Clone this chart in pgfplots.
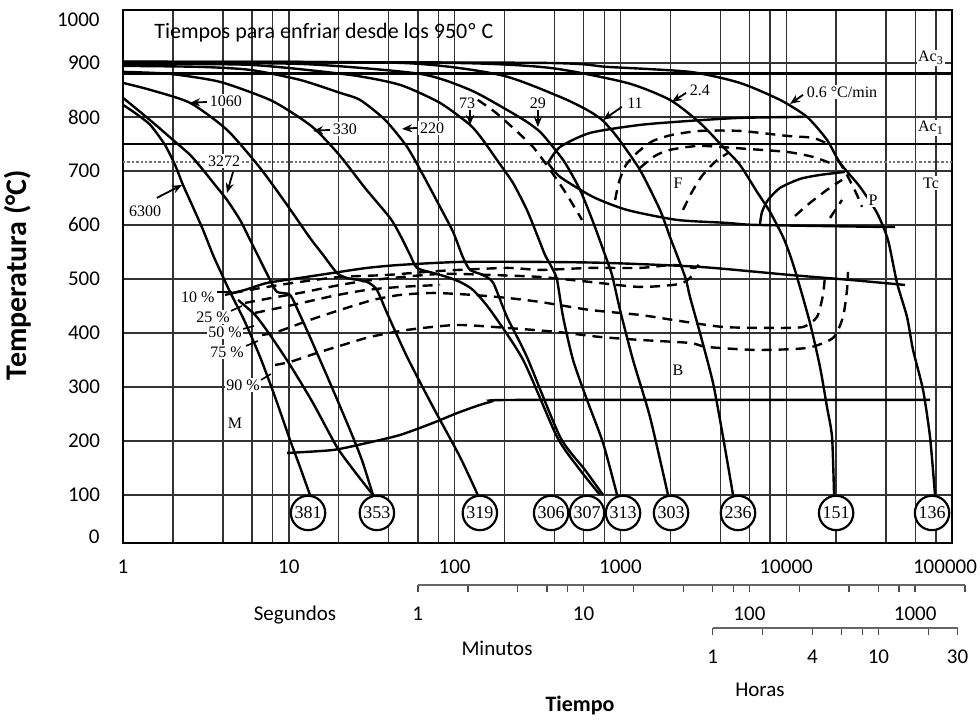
\documentclass[border=0pt]{standalone}
\usepackage{fontspec}
\setmainfont{Carlito}
\newfontfamily\tnr{Liberation Serif}
\usepackage{pgfplots}
\pgfplotsset{compat=1.18}
\usetikzlibrary{arrows.meta}
\begin{document}
\begin{tikzpicture}
\useasboundingbox (0,0) rectangle (490pt,360.5pt);
\begin{axis}[
  at={(61.5pt,89pt)}, anchor=south west,
  scale only axis, width=414.5pt, height=266.5pt,
  xmode=log, xmin=1, xmax=100000, ymin=11.1, ymax=998,
  xtick={1,10,100,1000,10000,100000},
  xticklabels={1,10,100,1000,10000,\hbox to 0pt{\hss\kern-7pt 100000\hss}},
  minor xtick={2,4,6,8,20,40,60,80,200,400,600,800,2000,4000,6000,8000,20000,40000,60000,80000},
  ytick={100,200,...,900},
  /pgf/number format/assume math mode=true,
  grid=both,
  major grid style={black!80, line width=0.7pt},
  minor grid style={black!80, line width=0.7pt},
  major tick length=0pt, minor tick length=0pt,
  axis line style={black, line width=1.1pt},
  tick label style={font=\fontsize{10.5}{12}\selectfont},
  xticklabel style={yshift=-5pt},
  yticklabel style={xshift=-8pt},
  clip=false,
  every axis plot/.append style={line width=1.2pt, black},
]
% reference lines Ac3, Ac1, Tc
\addplot[line width=1.4pt] coordinates {(1,880) (100000,880)};
\addplot[line width=1.4pt] coordinates {(1,750) (100000,750)};
\addplot[densely dotted, black!55, line width=1.1pt] coordinates {(1,717) (100000,717)};
% cooling curves
\addplot[smooth, tension=0.4] coordinates {(1,822.3) (1.18,807.5) (1.46,785.2) (1.79,748.2) (2.06,711.2) (2.30,674.1) (2.64,633.4) (3.04,590.8) (3.49,544.5) (3.96,507.4) (4.42,476.0) (5.44,420.4) (6.71,355.6) (8.26,281.5) (10.17,201.9) (11.68,151.9) (13.42,100)};
\addplot[smooth, tension=0.4] coordinates {(1,835.3) (1.27,809.3) (1.60,783.4) (2.00,757.5) (2.54,729.7) (3.04,701.9) (3.59,674.1) (4.24,646.3) (5.08,609.3) (5.84,572.3) (6.71,535.2) (7.71,498.2) (8.49,476.0) (10.17,470.4) (11.68,433.4) (13.42,392.6) (15.43,350.0) (17.73,307.4) (23.40,220.4) (27.6,164.8) (32.2,100)};
\addplot[smooth, tension=0.4] coordinates {(4.94,461.1) (6.26,433.4) (7.71,396.3) (10.17,340.8) (13.99,270.4) (19.5,188.9) (25.1,142.6) (32.2,100)};
\addplot[smooth, tension=0.4] coordinates {(1,863.0) (1.46,850.1) (2.54,826.0) (4.24,776.0) (6.71,705.6) (9.76,637.1) (13.42,576.0) (16.1,544.5) (19.5,511.2) (22.4,501.9) (29.6,494.5) (34.0,479.7) (39.1,437.1) (51.7,355.6) (74.1,263.0) (107.8,170.4) (138,100)};
\addplot[smooth, tension=0.4] coordinates {(1,883.4) (1.92,879.7) (3.85,864.9) (7.71,831.5) (11.68,798.2) (14.8,774.1) (20.4,727.8) (28.8,668.6) (40.8,613.0) (46.9,581.5) (53.9,544.5) (59.3,520.4) (74.1,511.2) (90.0,503.7) (107.8,494.5) (129,479.7) (164,442.6) (259,350.0) (415,207.4) (571,146.3) (754,100)};
\addplot[smooth, tension=0.4] coordinates {(1,894.5) (2.91,892.7) (5.84,887.1) (11.68,868.6) (20.4,844.5) (26.9,831.5) (38.1,794.5) (51.7,744.5) (64.5,692.6) (81.7,633.4) (97.9,587.1) (112,540.8) (124,516.7) (148,507.4) (171,492.6) (207,429.7) (273,355.6) (433,207.4) (612,146.3) (786,100)};
\addplot[smooth, tension=0.4] coordinates {(1,898.2) (5.84,896.4) (23.4,877.8) (46.9,859.3) (81.7,826.0) (124,785.2) (148,757.5) (180,720.4) (225,677.8) (273,627.8) (318,577.8) (351,544.5) (387,520.4) (415,498.2) (451,429.7) (518,350.0) (629,276.0) (786,196.3) (955,100)};
\addplot[smooth, tension=0.4] coordinates {(1,900.1) (11.68,898.2) (61.9,879.7) (124,850.1) (207,813.0) (273,790.8) (328,772.3) (392,744.5) (464,714.9) (571,664.9) (684,605.6) (808,544.5) (890,507.4) (995,442.6) (1191,350.0) (1508,244.5) (1938,100)};
\addplot[smooth, tension=0.4] coordinates {(1,901.9) (46.9,900.1) (188,877.8) (433,837.1) (629,813.0) (775,794.5) (955,763.0) (1312,701.9) (1733,627.8) (1991,577.8) (2287,529.7) (2490,498.2) (2628,466.7) (3020,400.0) (3620,307.4) (4160,207.4) (4780,100)};
\addplot[smooth, tension=0.4] coordinates {(1,901.9) (93.9,900.1) (376,890.8) (1096,863.0) (1991,831.5) (3020,789.0) (4160,744.5) (5260,711.2) (6670,661.2) (7990,624.1) (9570,577.8) (10540,544.5) (11620,503.7) (13910,418.6) (15990,337.1) (17620,263.0) (18900,207.4) (19440,100)};
\addplot[smooth, tension=0.4] coordinates {(1,901.9) (328,900.1) (831,892.7) (2628,883.4) (5260,863.0) (9180,831.5) (13350,800.1) (17620,757.5) (21110,714.9) (27870,670.4) (35300,622.3) (41100,572.3) (46600,492.6) (53540,429.7) (58200,368.5) (66900,294.5) (73700,207.4) (79000,100)};
% transformation start / finish lines
\addplot[smooth, tension=0.4] coordinates {(4.12,470.4) (5.44,479.7) (7.39,492.6) (11.68,501.9) (18.5,511.2) (29.6,520.4) (46.9,526.0) (107.8,531.5) (328,531.5) (831,529.7) (3020,522.3) (10540,507.4) (24260,498.2) (52100,488.9)};
\addplot[smooth, tension=0.4] coordinates {(9.76,177.8) (18.5,183.3) (29.6,196.3) (46.9,211.1) (74.1,233.4) (107.8,253.7) (164,272.2) (248,276.0) (73700,276.0)};
\addplot[smooth, tension=0.4] coordinates {(366,714.9) (433,744.5) (656,770.4) (1312,785.2) (2628,792.7) (5260,798.2) (12630,800.1)};
\addplot[smooth, tension=0.4] coordinates {(366,714.9) (433,688.9) (684,651.9) (1096,627.8) (2194,609.3) (4395,603.8) (6670,600.0) (38360,596.3) (45320,596.3)};
\addplot[smooth, tension=0.4] coordinates {(6950,601.9) (7146,624.1) (7770,646.3) (9180,668.6) (12110,685.2) (15990,692.6) (22630,698.2)};
% dashed lines
\pgfplotsset{dsh/.style={smooth, tension=0.4, dash pattern=on 5pt off 3.5pt, line width=1.2pt}}
\addplot[dsh] coordinates {(138,831.5) (175,809.3) (225,779.7) (297,744.5) (366,707.5) (464,661.2) (587,609.3)};
\addplot[dsh] coordinates {(929,646.3) (981,679.7) (1081,711.2) (1277,735.2) (1573,755.6) (2047,766.7) (3020,774.1) (5260,774.1) (10110,764.9) (14510,761.2) (18380,748.2)};
\addplot[dsh] coordinates {(1312,705.6) (1617,727.8) (1991,739.0) (3020,746.4) (5800,740.8) (10110,735.2) (14510,726.0) (19700,711.2)};
\addplot[dsh] coordinates {(2386,627.8) (2703,661.2) (3105,690.8) (3720,716.7) (4459,733.4)};
\addplot[dsh] coordinates {(20530,720.4) (23260,692.6) (26730,655.6) (28650,633.4)};
\addplot[dsh] coordinates {(11300,616.7) (13910,640.8) (17620,664.9) (21710,683.4)};
\addplot[dsh] coordinates {(18380,613.0) (21710,646.3)};
\addplot[dsh] coordinates {(4.61,474.1) (7.39,485.2) (11.68,494.5) (20.4,503.7) (39.1,507.4) (81.7,514.9) (207,520.4) (328,516.7) (656,520.4) (1312,520.4) (2077,526.0) (2818,520.4) (3020,531.5)};
\addplot[dsh] coordinates {(5.44,455.6) (8.49,466.7) (11.68,474.1) (20.4,488.9) (32.2,498.2) (81.7,509.3) (164,507.4) (328,503.7) (656,494.5) (1312,485.2) (2287,490.8) (2703,505.6)};
\addplot[dsh] coordinates {(6.26,437.1) (10.60,451.9) (18.5,468.6) (29.6,479.7) (46.9,485.2) (81.7,488.9)};
\addplot[dsh] coordinates {(6.90,396.3) (8.49,401.9) (13.42,424.1) (20.4,442.6) (32.2,461.1) (46.9,470.4) (74.1,474.1) (129,470.4) (207,464.9) (328,457.4) (656,442.6) (1312,433.4) (2077,424.1) (4160,411.1) (8330,409.3) (12630,411.1) (15340,429.7) (16670,470.4) (17140,507.4)};
\addplot[dsh] coordinates {(8.26,340.8) (10.17,346.3) (14.8,363.0) (21.2,377.8) (30.9,392.6) (51.7,405.6) (103.4,414.8) (207,409.3) (415,401.9) (754,392.6) (1312,387.1) (2628,381.5) (3329,374.1) (6670,368.5) (13350,372.3) (19160,390.8) (22010,429.7) (23260,479.7) (23590,513.0)};
% hardness circles
\addplot[only marks, mark=*, mark size=8.6pt, mark options={fill=white, draw=black, line width=1.1pt},
  nodes near coords, point meta=explicit symbolic,
  every node near coord/.append style={anchor=center, font=\tnr\fontsize{9}{10}\selectfont}]
  table[meta=label] {
x y label
13.06 66.7 381
34.0 66.7 353
142 66.7 319
382 66.7 306
629 66.7 307
1037 66.7 313
2020 66.7 303
5120 66.7 236
20000 66.7 151
75800 66.7 136
};
% title
\node[anchor=west, font=\fontsize{11}{13}\selectfont] at (axis cs:1.40,955.6) {Tiempos para enfriar desde los 950º C};
% rate labels and arrows
\tikzset{lbl/.style={font=\tnr\fontsize{8}{9}\selectfont, inner sep=0.8pt, fill=white}, arr/.style={-{Stealth[length=5pt,width=4pt]}, line width=0.9pt}}
\node[lbl] at (axis cs:4.18,829.7) {1060};
\draw[arr] (axis cs:3.21,827.8) -- (axis cs:2.54,826);
\node[lbl] at (axis cs:21.8,777.8) {330};
\draw[arr] (axis cs:17.7,776) -- (axis cs:14.0,774.1);
\node[lbl] at (axis cs:73.1,779.7) {220};
\draw[arr] (axis cs:59.3,779.7) -- (axis cs:48.2,777.8);
\node[lbl] at (axis cs:119,826) {73};
\draw[arr] (axis cs:124,813) -- (axis cs:124,785.2);
\node[lbl] at (axis cs:318,826) {29};
\draw[arr] (axis cs:318,813) -- (axis cs:318,781.5);
\node[lbl] at (axis cs:1225,826) {11};
\draw[arr] (axis cs:1022,818.6) -- (axis cs:786,794.5);
\node[lbl] at (axis cs:3020,850.1) {2.4};
\draw[arr] (axis cs:2490,844.5) -- (axis cs:2047,827.8);
\node[lbl] at (axis cs:21710,846.4) {0.6 °C/min};
\draw[arr] (axis cs:12630,840.8) -- (axis cs:10540,824.1);
\node[lbl] at (axis cs:1.36,626.0) {6300};
\draw[arr] (axis cs:1.60,650.1) -- (axis cs:2.27,674.1);
\node[lbl] at (axis cs:4.07,718.6) {3272};
\draw[arr] (axis cs:4.61,698.2) -- (axis cs:4.24,659.3);
% phase labels
\node[lbl] at (axis cs:74700,909.3) {Ac\textsubscript{3}};
\node[lbl] at (axis cs:74700,779.7) {Ac\textsubscript{1}};
\node[lbl] at (axis cs:74700,677.8) {Tc};
\node[lbl] at (axis cs:2227,677.8) {F};
\node[lbl] at (axis cs:33390,646.3) {P};
\node[lbl] at (axis cs:2227,331.5) {B};
\node[lbl] at (axis cs:4.74,233.4) {M};
\node[lbl] at (axis cs:2.83,466.7) {10 \%};
\node[lbl] at (axis cs:3.49,429.7) {25 \%};
\node[lbl] at (axis cs:4.12,401.9) {50 \%};
\node[lbl] at (axis cs:4.24,364.8) {75 \%};
\node[lbl] at (axis cs:5.30,303.7) {90 \%};
\draw[line width=0.8pt] (axis cs:3.69,476) -- (axis cs:4.55,476);
\draw[line width=0.8pt] (axis cs:4.48,440.8) -- (axis cs:5.22,450.0);
\draw[line width=0.8pt] (axis cs:5.30,407.4) -- (axis cs:6.17,413.0);
\draw[line width=0.8pt] (axis cs:5.52,376.0) -- (axis cs:6.52,385.2);
\draw[line width=0.8pt] (axis cs:6.80,313.0) -- (axis cs:7.81,324.1);
\end{axis}
% minutes scale
\begin{axis}[
  at={(208.9pt,68pt)}, anchor=south west,
  scale only axis, width=273.66pt, height=5pt,
  xmode=log, xmin=1, xmax=2000, ymin=0, ymax=1,
  axis y line=none, axis x line*=bottom,
  xtick={1,10,100,1000}, xticklabels={1,10,100,1000},
  minor xtick={2,4,6,8,20,40,60,80,200,400,600,800,2000},
  tick align=outside, major tick length=3.5pt, minor tick length=3.5pt,
  tick style={black!70, line width=0.8pt},
  axis line style={black!60, line width=1.3pt},
  tick label style={font=\fontsize{10.5}{12}\selectfont},
  xticklabel style={yshift=-4pt},
]
\end{axis}
% hours scale
\begin{axis}[
  at={(356.3pt,46.5pt)}, anchor=south west,
  scale only axis, width=122.45pt, height=5pt,
  xmode=log, xmin=1, xmax=30, ymin=0, ymax=1,
  axis y line=none, axis x line*=bottom,
  xtick={1,4,10,30}, xticklabels={1,4,10,30},
  minor xtick={2,6,8,20},
  tick align=outside, major tick length=3.5pt, minor tick length=3.5pt,
  tick style={black!70, line width=0.8pt},
  axis line style={black!60, line width=1.3pt},
  tick label style={font=\fontsize{10.5}{12}\selectfont},
  xticklabel style={yshift=-4pt},
]
\end{axis}
\node[anchor=east, inner sep=0pt, font=\fontsize{10.5}{12}\selectfont] at (50pt,92pt) {0};
\node[anchor=east, inner sep=0pt, font=\fontsize{10.5}{12}\selectfont] at (50pt,350.5pt) {1000};
\node[font=\fontsize{10.5}{12}\selectfont] at (147.5pt,53pt) {Segundos};
\node[font=\fontsize{10.5}{12}\selectfont] at (248.5pt,36.5pt) {Minutos};
\node[font=\fontsize{10.5}{12}\selectfont] at (380pt,15.5pt) {Horas};
\node[font=\bfseries\fontsize{11}{13}\selectfont] at (290pt,7.5pt) {Tiempo};
\node[rotate=90, font=\bfseries\fontsize{15}{17}\selectfont] at (9pt,223pt) {Temperatura (°C)};
\end{tikzpicture}
\end{document}
